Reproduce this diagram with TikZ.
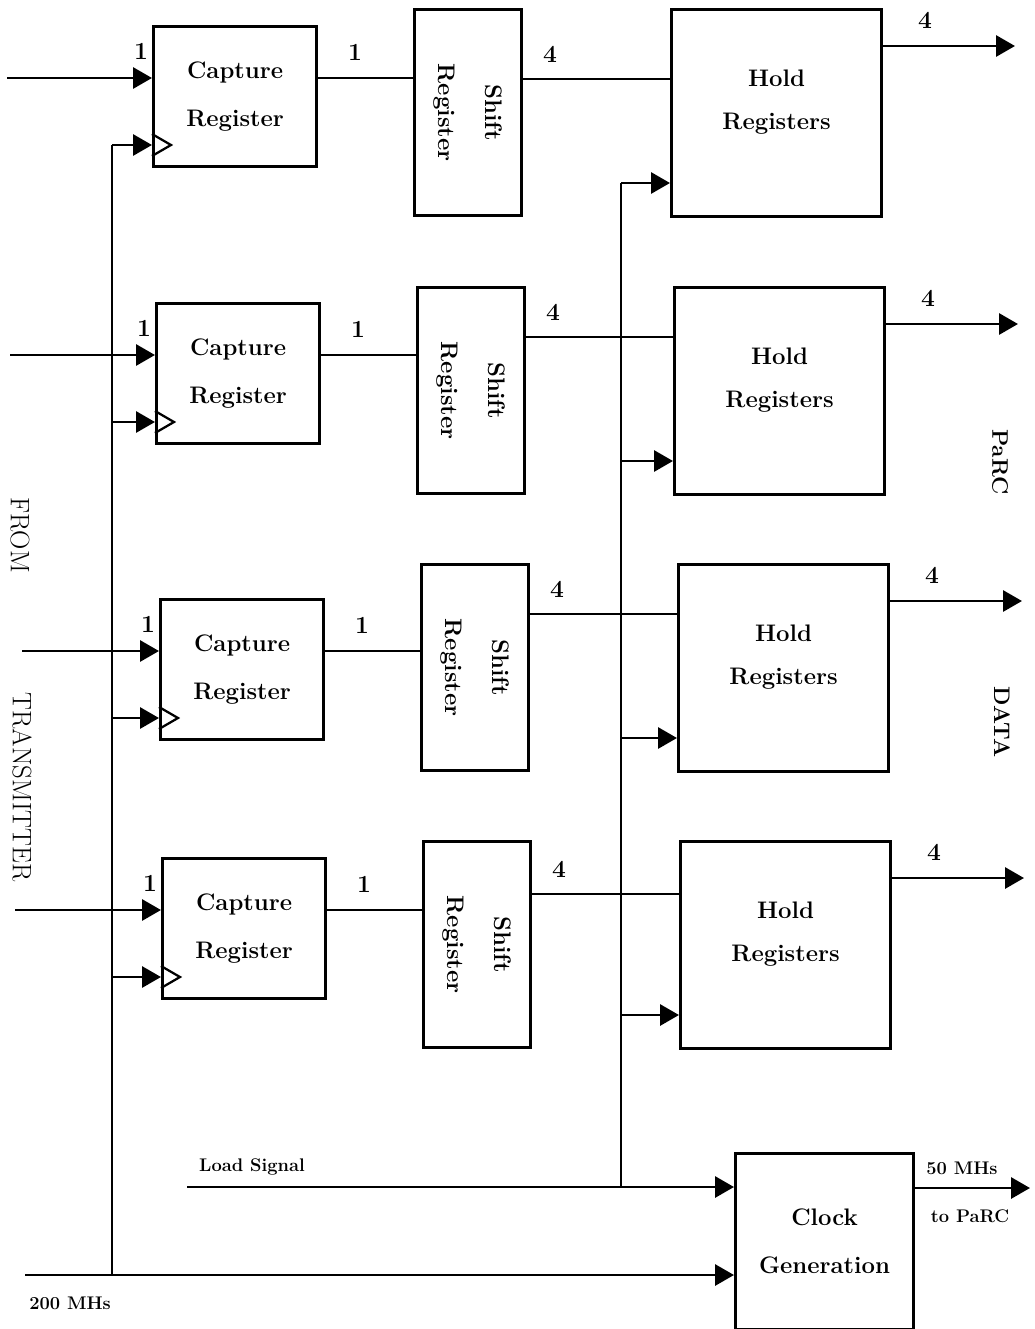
\documentclass[tikz,border=0pt]{standalone}
\usepackage{fontspec}
\usepackage{tikz}
\usetikzlibrary{arrows.meta}

\begin{document}
\begin{tikzpicture}[x=.025cm,y=-.025cm,
  box/.style={draw,line width=2.2pt,inner sep=0pt,anchor=north west,
    align=center,font=\fontsize{17}{34}\selectfont\bfseries},
  sig/.style={line width=2.1pt},
  arr/.style={sig,-{Triangle[length=.47cm,width=.52cm]}},
  num/.style={font=\fontsize{17.5}{20}\selectfont\bfseries},
  small/.style={font=\fontsize{13}{15}\selectfont\bfseries},
  side/.style={rotate=-90,font=\fontsize{19}{22}\selectfont}]
\useasboundingbox (0,0) rectangle (1034,1329);
% four channels
\foreach \n/\dx/\xi/\yc/\ys/\yo in {1/0/7/25/8/79,2/3/10/302/286/337,
    3/7/22/598/563/614,4/9/15/857/840/894}{
  \node[box,minimum width=4.075cm,minimum height=3.5cm] (cap\n)
    at (152+\dx,\yc) {Capture\\Register};
  \node[box,minimum width=2.675cm,minimum height=5.15cm] (sft\n)
    at (413+\dx,\ys) {};
  \node[rotate=-90,align=center,font=\fontsize{17}{33}\selectfont\bfseries]
    (sftt\n) at (sft\n.center) {Shift\\Register};
  \node[box,minimum width=5.25cm,minimum height=5.175cm,
    font=\fontsize{17}{31}\selectfont\bfseries] (hld\n)
    at (670+\dx,\ys) {Hold\\Registers\\[-12pt]};
  \coordinate (in\n) at (\xi,\yc+53);
  \coordinate (ck\n) at (112,\yc+120);
  \coordinate (so\n) at (0,\yo);
  \coordinate (ld\n) at (621,\ys+175);
  \coordinate (out\n) at (1015+\dx,\ys+38);
  \draw[arr] (in\n) -- (in\n -| cap\n.west);
  \draw[arr] (ck\n) -- (ck\n -| cap\n.west);
  \draw[line width=1.6pt] (ck\n -| cap\n.west) ++(0,-11) -- ++(19,11) -- ++(-19,11);
  \draw[sig] (in\n -| cap\n.east) -- (in\n -| sft\n.west);
  \draw[sig] (sft\n.east |- so\n) -- (hld\n.west |- so\n);
  \draw[arr] (ld\n) -- (ld\n -| hld\n.west);
  \draw[arr] (out\n -| hld\n.east) -- (out\n);
  \node[num] at (141+\dx,\yc+26) {1};
  \node[num] at (355+\dx,\yc+27) {1};
  \node[num] at (550+\dx,\yo-25) {4};
  \node[num] at (925+\dx,\ys+12) {4};
}
% clock generation
\node[box,minimum width=4.45cm,minimum height=4.4cm] (cg) at (734,1152)
  {Clock\\Generation};
\coordinate (ls) at (187,1187); \coordinate (lsj) at (621,1187);
\coordinate (mhz) at (25,1275); \coordinate (ckb) at (112,1275);
\coordinate (po) at (1030,1188);
\draw[arr] (ls) -- (ls -| cg.west);
\draw[arr] (mhz) -- (mhz -| cg.west);
\draw[arr] (po -| cg.east) -- (po);
\draw[sig] (lsj) -- (ld1);
\draw[sig] (ckb) -- (ck1);
\node[small] (lslbl) at (252,1167) {Load Signal};
\node[small] (mhzlbl) at (70,1303) {200 MHs};
\node[small] (polbl) at (962,1168) {50 MHs};
\node[small] (polbl2) at (970,1216) {to PaRC};
% side labels
\node[side] (from) at (20,535) {FROM};
\node[side] (trans) at (22,787) {TRANSMITTER};
\node[side,font=\fontsize{16}{18}\selectfont\bfseries] (parc) at (1000,462) {PaRC};
\node[side,font=\fontsize{16}{18}\selectfont\bfseries] (data) at (1002,722) {DATA};
\end{tikzpicture}
\end{document}
